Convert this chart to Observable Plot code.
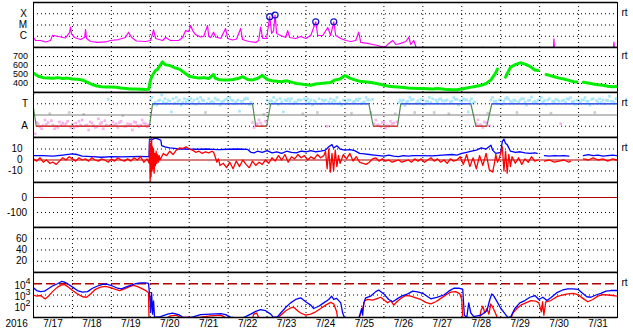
<!DOCTYPE html>
<html><head><meta charset="utf-8">
<script src="https://cdn.jsdelivr.net/npm/d3@7"></script>
<script src="https://cdn.jsdelivr.net/npm/@observablehq/plot@0.6"></script>
<style>
body{margin:0;background:#fff;}
#chart{position:relative;width:633px;height:334px;background:#fff;overflow:hidden;}
#chart svg{position:absolute;left:0;}
</style></head><body><div id="chart"></div>
<script>
// ---------- DATA (hours since 2016-07-17 00:00 UT) ----------
const year = "2016";
const days = ["7/17","7/18","7/19","7/20","7/21","7/22","7/23","7/24","7/25","7/26","7/27","7/28","7/29","7/30","7/31"];

// GOES X-ray flux (W/m2)
const xray = [[0,7.7e-7],[1.2,4.2e-7],[4.3,4.2e-7],[7.4,3.1e-7],[10.5,4.2e-7],[11.7,1.2e-6],[15.4,9.5e-7],[19.7,7e-7],[22.2,2.1e-6],[22.8,6.4e-6],[23.4,1.75e-6],[25.3,7.7e-7],[29,5.1e-7],[31.5,7.7e-7],[32.1,4e-6],[32.7,6.3e-7],[35.2,3.4e-7],[39.5,2.8e-7],[44.4,3.1e-7],[47.5,4.2e-7],[52.4,5.1e-7],[56.7,7.7e-7],[58.6,2.3e-6],[60.5,7.7e-7],[63.5,3.8e-7],[69.1,3.4e-7],[72.2,4.2e-7],[74,3.7e-6],[75.3,6.3e-7],[79.6,4.2e-7],[81.4,7.7e-7],[84.5,4.2e-7],[89.5,4.2e-7],[91.9,7.7e-7],[93.8,3.2e-6],[95.6,2.6e-6],[96.9,9e-6],[98.1,3.2e-6],[99.9,1.4e-6],[103,8.6e-7],[104.9,9.5e-7],[107.3,9e-6],[108,9.5e-7],[109.2,7.7e-7],[111,2.3e-6],[112.3,8.6e-7],[115.4,6.3e-7],[118.4,4.9e-6],[119.7,6.3e-7],[122.8,4.6e-7],[125.2,5.7e-7],[127.7,4.9e-6],[128.9,5.1e-7],[132.6,3.4e-7],[137,2.8e-7],[138.8,4.2e-7],[140,6.4e-6],[141.3,6.3e-7],[143.7,6.3e-7],[145.6,5.5e-5],[146.8,1.75e-6],[148,3.2e-6],[148.9,7.6e-5],[149.9,1.75e-6],[152.4,1.17e-6],[155.5,7.7e-7],[156.7,3.2e-6],[157.9,7.7e-7],[161.6,6.3e-7],[164.7,9.5e-7],[167.8,6.3e-7],[170.9,1.17e-6],[174,1.9e-5],[175.2,1.17e-6],[178.3,1.17e-6],[181.4,6e-6],[183.2,1.17e-6],[185.1,1.9e-5],[186.3,1.17e-6],[189.4,6.3e-7],[192.5,4.2e-7],[195.6,3.4e-7],[198.6,4.2e-7],[200.5,2.3e-6],[201.7,2.8e-7],[206,2.3e-7],[209.1,1.85e-7],[212.2,1.5e-7],[214.1,1.23e-7],[217.2,1.23e-7],[219,2.3e-7],[221.5,4.2e-7],[223.3,1.85e-7],[226.4,2.3e-7],[229.5,3.4e-7],[231.3,8.2e-7],[232.6,1.85e-7],[234.4,4.2e-7],[235.7,1.23e-7],[237,5e-8],[276.6,5e-8],[277,1.1e-7],[277.4,5e-8],[296.3,5e-8],[296.7,1.1e-7],[297.1,5e-8],[320.5,9e-8],[320.8,5.9e-7],[321.1,9e-8],[357.5,9e-8],[357.8,3e-7],[358.1,9e-8]];
const flares = [[145.6,5.5e-5],[148.9,7.6e-5],[174,1.9e-5],[185.1,1.9e-5]];
const xrayTicks = [1e-6,1e-5,1e-4];
const xrayLabels = ["C","M","X"];

// Solar wind speed (km/s)
const wind = [[0,515],[3,480],[6,465],[9,462],[12,458],[15,465],[18,455],[21,460],[24,450],[27,448],[30,440],[33,415],[36,390],[39,372],[42,365],[45,362],[48,360],[51,358],[54,350],[57,345],[60,340],[63,338],[66,335],[69,332],[71,335],[72,430],[73,480],[75,540],[76.5,560],[78,600],[79.5,640],[81,610],[84,600],[87,575],[90,560],[93,520],[96,480],[99,470],[102,460],[105,465],[108,455],[111,500],[112,460],[114,445],[117,440],[120,440],[123,445],[126,455],[129,475],[132,445],[135,440],[138,455],[141,490],[144,445],[147,430],[150,425],[153,420],[156,430],[159,415],[162,400],[165,395],[168,385],[171,380],[174,395],[177,400],[180,405],[183,410],[186,440],[189,450],[192,490],[195,460],[198,440],[201,425],[204,420],[207,415],[210,405],[213,395],[216,380],[219,370],[222,365],[225,360],[228,355],[231,350],[234,348],[237,345],[240,345],[243,342],[246,340],[249,345],[252,338],[255,332],[258,330],[261,330],[264,340],[267,350],[270,360],[273,370],[276,380],[279,400],[282,440],[285,520],[286,560],[287,null],[291,470],[294,580],[297,610],[300,630],[303,615],[306,590],[309,550],[311,545],[312,null],[316,500],[318,490],[321,475],[324,460],[327,450],[330,435],[333,420],[335,418],[336,null],[339,415],[342,405],[345,395],[348,385],[351,380],[354,370],[357,365],[359.5,368]];
const windTicks = [400,500,600,700];

// IMF phi angle samples (deg), three per 3-hour slot
const phiA = [350,110,95,120,100,80,115,130, 105,90,140,100,115,85,120,100, 95,110,130,90,105,120,100,110, 300,280,300,310,290,275,300,310, 290,300,285,295,310,280,300,290, 280,295,300,290,310,120,110,95, 300,290,300,285,295,310,280,300, 290,300,285,270,300,310,290,280, 295,300,290,310,285,300,110,100, 120,90,115,280,300,290,305,295, 300,290,310,285,295,300,290,305, 290,300,310,110,100,120,300,290, 300,310,290,295,300,285,300,290, 300,295,310,285,290,300,305,290, 295,300,290,310,285,300,295,290];
const phiB = [30,85,140,190,70,125,95,200, 75,130,185,60,95,150,70,305, 125,80,175,110,60,95,140,85, 320,260,340,275,205,320,260,285, 310,265,320,200,280,315,260,300, 320,270,210,305,265,80,140,185, 270,320,265,205,310,270,300,190, 310,260,200,300,90,280,320,260, 275,195,305,270,320,200,140,85, 75,130,190,300,255,320,200,275, 265,320,200,305,270,190,320,260, 310,205,275,140,80,195,320,270, 265,320,280,200,310,260,325,280, 320,265,195,305,110,280,320,265, 280,320,260,200,310,270,330,280];
const phiC = [120,70,105,135,90,100,110,80, 115,100,95,125,80,110,135,95, 100,120,90,105,125,85,115,100, 265,295,285,300,310,290,280,305, 280,310,300,275,290,300,285,310, 300,285,290,315,280,100,115,130, 295,280,310,300,290,285,300,310, 280,295,310,290,285,300,270,300, 300,285,295,280,300,305,100,120, 95,110,125,290,285,300,275,305, 290,280,300,310,295,285,305,295, 300,290,285,100,125,95,290,300, 290,305,300,285,310,295,280,300, 285,300,290,300,295,310,285,300, 300,290,305,295,280,300,290,310];
// IMF sector polarity (270 = T, 90 = A)
const sector = [[0,235],[1.7,90],[71.5,90],[73.4,270],[135,270],[137,90],[143.7,90],[146.2,270],[206.7,270],[209.5,90],[224.4,90],[226.4,270],[269.6,270],[272.7,90],[279.4,90],[282.5,270],[360,270]];
const sectorTicks = [90,270];
const sectorLabels = ["A","T"];

// IMF Bt and Bz (nT)
const bt = [[0,4],[6,4],[12,3.5],[18,4.5],[24,5.5],[27,5],[30,3.5],[36,3],[42,2.5],[48,3],[54,2.8],[60,3],[66,3.2],[70,3],[71.2,3],[71.5,19],[73,18.5],[75,20],[77,19],[78.5,18],[79,13],[81,12],[84,11],[87,10.5],[90,10],[93,10],[96,9.8],[102,9.8],[108,10],[114,9.5],[120,9.8],[126,10],[132,9.6],[134,7],[136,6.5],[138,8],[141,7],[144,8.5],[147,6.5],[150,7.5],[153,6],[156,8],[159,7],[162,6.5],[165,8],[168,7.5],[171,8.5],[174,7.5],[177,8],[180,9],[182,12],[184,14],[185,11],[187,13],[189,10],[192,9],[195,9.5],[198,8.5],[201,6],[204,5.5],[207,5],[210,4.5],[213,4],[216,3.5],[219,4.5],[222,3.5],[225,3],[228,4],[231,3.5],[234,4],[240,4],[246,3.8],[252,4.5],[258,5],[261,4.5],[264,6],[267,7],[270,8],[273,9],[276,11],[279,10],[282,13.5],[283,9],[285,6],[288,7],[289,17],[290,19],[291,15],[292,14],[294,8],[297,7],[300,7.5],[303,6.5],[306,6],[309,6.5],[310.5,6],[311,null],[315,4],[318,3.5],[321,4],[324,3.8],[327,4],[330,3.5],[331,null],[339,4],[342,5],[345,4],[348,4.5],[351,3.5],[354,4],[357,4.5],[359.5,4]];
const bz = [[0,1],[2,-1],[4,2],[6,-2],[8,0],[10,-3],[12,-2],[14,-4],[16,-1],[18,2],[20,0],[22,3],[24,1],[26,-1],[28,2],[30,0],[32,1],[34,-1],[36,2],[38,0],[40,-1],[42,1],[44,0],[46,-2],[48,1],[50,-1],[52,2],[54,0],[56,-1],[58,1],[60,-1],[62,2],[64,0],[66,3],[68,-2],[70,1],[71.3,-3],[71.6,18],[71.9,-20],[72.2,15],[72.5,-15],[72.8,20],[73.1,-10],[73.4,12],[73.7,-8],[74,10],[74.4,-12],[74.8,6],[75.2,-5],[75.6,8],[76,-3],[76.5,5],[77,-2],[77.5,4],[78,0],[79,3],[80,6],[82,4],[84,8],[86,5],[88,9],[90,11],[92,10.5],[94,12],[96,10],[98,9],[100,7],[102,8],[104,6],[106,7.5],[108,6.5],[110,8],[111,7],[112,3],[113,-2],[114,1],[115,-5],[117,-3],[119,-7],[121,-2],[123,-8],[125,-1],[127,-6],[129,0],[131,-4],[133,-7],[135,-1],[137,-5],[139,-2],[141,-4],[143,0],[145,-3],[147,2],[149,-1],[151,4],[153,0],[155,5],[157,-2],[159,3],[161,1],[163,5],[165,2],[167,4],[169,0],[171,3],[173,1],[175,5],[177,2],[179,4],[180,8],[181,-8],[182,10],[183,-11],[184,6],[185,-10],[186,9],[187,-6],[188,4],[189,-3],[191,5],[193,1],[195,6],[197,-1],[199,3],[201,-2],[203,-3],[205,-4],[207,-2],[209,1],[211,2],[213,-1],[215,1],[217,-1],[219,0],[221,-2],[223,-1],[225,0],[227,-2],[229,-1],[231,0],[233,-2],[235,1],[237,-1],[239,1],[241,-2],[243,0],[245,2],[247,-1],[249,1],[251,-2],[253,0],[255,-3],[257,1],[259,-1],[261,0],[263,3],[265,-4],[267,5],[269,-6],[271,2],[273,-8],[275,4],[277,-5],[279,6],[281,-9],[283,-11],[284,-4],[285,5],[286,-2],[287,1],[289,12],[290,-10],[291,8],[292,-12],[293,5],[294,-6],[295,3],[297,-3],[299,2],[301,-4],[303,1],[305,-2],[307,3],[309,-1],[311,0],[311.5,null],[315,-1],[318,0],[321,-2],[324,-1],[327,0],[330,-2],[331,-1],[331.5,null],[339,1],[342,0],[345,2],[348,0],[351,1],[354,-1],[357,1],[359.5,0]];
const imfTicks = [-10,0,10];

// Dst (nT) and activity index panels (no data in this period)
const dstTicks = [-100,0];
const kpTicks = [20,40,60];

// >2 MeV electron flux, two satellites
const elec1 = [[0,4400],[1.9,2500],[4.3,2000],[6.8,2200],[8.6,3200],[11.7,6300],[14.8,10000],[17.3,16000],[19.1,14000],[21,10000],[24.1,5000],[27.1,2500],[30.2,1800],[33.3,2000],[36.4,4000],[39.5,6300],[42.6,9000],[45.7,9000],[48.7,6300],[51.8,4000],[54.3,3500],[56.8,5000],[59.8,7100],[62.9,10000],[66,12000],[69.1,12000],[70.9,11000],[71.9,300],[72.2,30],[72.8,1600],[73.4,20],[74,300],[74.6,11],[78.3,12],[82.7,20],[85.7,25],[89.5,18],[91.9,11],[96.9,10],[103,18],[109.2,20],[115.4,22],[118.4,18],[121.5,11],[127.7,8],[130.8,12],[133.9,20],[137,35],[140,50],[143.1,40],[146.2,20],[148,10],[150.5,12],[152.4,25],[155.5,80],[158.5,200],[161.6,400],[164.7,560],[167.8,250],[170.9,125],[172.7,63],[175.8,100],[178.9,200],[182,400],[183.8,800],[185.1,400],[186.9,500],[189.4,200],[190.6,25],[191.9,8],[200.5,8],[202.3,63],[202.9,16],[203.6,200],[204.8,560],[207.9,800],[211,2000],[212.8,2800],[215.9,1250],[219,400],[221.5,250],[224.6,500],[227.6,900],[230.7,1250],[233.8,2200],[237.5,1800],[240.6,1250],[244.9,460],[248.6,630],[252.9,1000],[256,2200],[259.1,4000],[262.2,4000],[264.6,3200],[265.6,16],[267.1,10],[268.3,200],[269.6,25],[271.4,12],[275.8,16],[279.5,40],[281.3,400],[282.5,1250],[283.8,800],[286.2,200],[288.1,63],[290.6,22],[292.4,10],[294.3,12],[296.7,63],[299.8,200],[302.9,320],[306,630],[309.1,900],[311.5,400],[314,630],[316.5,320],[318.9,560],[322.6,1600],[326.3,2800],[329.4,3500],[332.5,3500],[335.6,3200],[338.1,1600],[341.1,700],[343.6,630],[346.7,1000],[349.8,1400],[352.9,2200],[355.9,2500],[359.7,2500]];
const elec2 = [[0,1000],[1.9,800],[4.3,900],[6.2,560],[7.4,460],[9.3,800],[11.7,2000],[14.8,5000],[17.3,8000],[19.1,8500],[21,5600],[24.1,2500],[27.1,1250],[30.2,700],[32.7,630],[35.2,1250],[38.2,3200],[41.3,5000],[44.4,5800],[47.5,4500],[50.6,3200],[53.1,2500],[56.1,3500],[59.2,5600],[61.7,7000],[64.2,5600],[67.2,3500],[69.7,2200],[70.9,1600],[71.2,8],[81.4,8],[84.5,14],[88.2,16],[90.7,10],[103,11],[109.2,14],[115.4,16],[118.4,10],[121.5,8],[135.1,8],[135.7,20],[137.6,25],[138.8,10],[150.5,8],[152.4,16],[155.5,40],[158.5,70],[160.4,83],[162.8,40],[164.7,25],[167.8,16],[170.9,20],[174,32],[177,63],[180.1,125],[183.2,220],[185.1,160],[186.9,32],[187.5,8],[200.5,8],[202.9,63],[204.2,320],[206,400],[209.1,350],[212.2,500],[214.1,630],[216.5,320],[218.4,200],[220.2,320],[222.1,125],[224,250],[226.4,500],[229.5,900],[232.6,800],[235.7,560],[238.7,400],[241.8,220],[244.9,160],[248,250],[251.1,500],[254.2,1000],[257.2,1800],[260.3,2000],[262.8,1250],[264,400],[264.6,8],[275.1,8],[275.8,40],[277,100],[278.2,25],[279.5,63],[280.7,20],[281.9,160],[283.1,80],[284.4,32],[285.6,12],[286.2,8],[294.3,8],[295.5,25],[298,63],[300.4,125],[303.5,200],[306.6,320],[309.7,280],[311.5,200],[313.1,32],[313.8,250],[314.6,16],[315.8,250],[318.9,320],[322.6,700],[326.3,1000],[329.4,1250],[332.5,1400],[335.6,1100],[338.7,500],[341.7,250],[344.8,400],[347.9,800],[351,1100],[354.1,1000],[357.2,900],[359.7,800]];
const elecTicks = [1e2,1e3,1e4];
const elecExp = ["2","3","4"];

// ---------- DRAWING ----------
const chart = document.getElementById("chart");
const FONT = '"Liberation Sans", Arial, Helvetica, sans-serif';
const W = 633, ML = 33, MR = 16, PH = 45;
const panelTops = [2,47,92,137,182,227,272];
const hourDomain = [0, days.length * 24];
const gridHours = days.slice(1).map((d,i) => (i+1)*24);
const noonHours = days.map((d,i) => i*24 + 12);
const px = d => d[0], py = d => d[1];

function panel(idx, cfg) {
  const last = idx === panelTops.length - 1;
  const fs = cfg.fontSize || 10;
  const marks = [
    ...(cfg.under || []),
    Plot.ruleX(gridHours, {x: d => d, stroke: "black", strokeDasharray: "1,3"}),
    Plot.ruleY(cfg.grid, {y: d => d, stroke: "black", strokeDasharray: "1,3"}),
    ...(cfg.marks || []),
    Plot.frame({stroke: "black"}),
    Plot.ruleY(cfg.domain, {y: d => d, stroke: "black", strokeWidth: 1.6}),
    ...(cfg.labelMarks || [Plot.text(cfg.ticks, {y: d => d, text: (d,i) => cfg.labels[i], frameAnchor: "left", textAnchor: "end", dx: -cfg.pad, fill: "black", fontSize: fs})]),
  ];
  if (cfg.rt !== undefined) marks.push(Plot.text([cfg.rt], {y: d => d, text: () => "rt", frameAnchor: "right", textAnchor: "start", dx: 4, dy: -1, fill: "black", fontSize: 10}));
  if (cfg.extra) marks.push(...cfg.extra);
  const svg = Plot.plot({
    width: W, height: PH + 2 + (last ? 16 : 0),
    marginLeft: ML, marginRight: MR, marginTop: 1, marginBottom: last ? 17 : 1,
    x: {domain: hourDomain, axis: null},
    y: {type: cfg.type || "linear", domain: cfg.domain, axis: null},
    color: {type: "identity"},
    style: {background: "none", fontFamily: FONT, fontSize: "10px", color: "black"},
    marks
  });
  svg.style.position = "absolute";
  svg.style.top = (panelTops[idx] - 1) + "px";
  svg.style.left = "0px";
  chart.appendChild(svg);
}

// Panel 1: X-ray
panel(0, {
  type: "log", domain: [1e-7, 1e-3], ticks: xrayTicks, grid: xrayTicks, labels: xrayLabels, pad: 6.5, rt: 1e-4,
  marks: [
    Plot.line(xray, {x: px, y: py, stroke: "#ff00ff", strokeWidth: 1.2, clip: true}),
    Plot.dot(flares, {x: px, y: py, r: 3, stroke: "#1010c8", strokeWidth: 1.2, fill: "none"})
  ]
});

// Panel 2: solar wind speed
panel(1, {
  domain: [300, 800], ticks: windTicks, grid: windTicks, labels: windTicks.map(String), pad: 5.5, rt: 700, fontSize: 9,
  marks: [Plot.line(wind, {x: px, y: py, stroke: "#00ee00", strokeWidth: 3, clip: true})]
});

// Panel 3: IMF sector
const phiColor = v => (v >= 205 && v <= 345) ? "#a8e6fa" : (v >= 15 && v <= 165) ? "#f7b2ee" : "#cccccc";
const phiPts = [];
phiA.forEach((v,i) => phiPts.push([i*3, v]));
phiB.forEach((v,i) => phiPts.push([i*3 + 1, v]));
phiC.forEach((v,i) => phiPts.push([i*3 + 2, v]));
const sectorSegs = d3.pairs(sector).filter(([a,b]) => a[1] === b[1] && (a[1] === 90 || a[1] === 270));
panel(2, {
  domain: [0, 360], ticks: sectorTicks, grid: sectorTicks, labels: sectorLabels, pad: 5.5, rt: 270,
  under: [Plot.dot(phiPts, {x: px, y: py, r: 1.5, fill: d => phiColor(d[1]), symbol: "square", clip: true})],
  marks: [
    Plot.ruleY([180], {stroke: "#808080", strokeWidth: 1.2}),
    Plot.line(sector, {x: px, y: py, stroke: "#4f8a4f", strokeWidth: 1.2}),
    Plot.link(sectorSegs, {x1: d => d[0][0], y1: d => d[0][1], x2: d => d[1][0], y2: d => d[1][1],
      stroke: d => d[0][1] === 270 ? "#3a5af0" : "#e03434", strokeWidth: 1.3})
  ]
});

// Panel 4: IMF Bt / Bz
panel(3, {
  domain: [-20.5, 20.5], ticks: imfTicks, grid: [-10, 10], labels: imfTicks.map(String), pad: 11, rt: 10,
  marks: [
    Plot.ruleY([0], {stroke: "#b00000", strokeWidth: 1.2}),
    Plot.line(bt, {x: px, y: py, stroke: "#0000ff", strokeWidth: 1.3, clip: true}),
    Plot.line(bz, {x: px, y: py, stroke: "#ff0000", strokeWidth: 1.3, clip: true})
  ]
});

// Panel 5: Dst
panel(4, {
  domain: [-200, 100], ticks: dstTicks, grid: [-100], labels: dstTicks.map(String), pad: 6.5,
  marks: [Plot.ruleY([0], {stroke: "#b00000", strokeWidth: 1.2})]
});

// Panel 6: index
panel(5, {
  domain: [0, 80], ticks: kpTicks, grid: kpTicks, labels: kpTicks.map(String), pad: 6.5
});

// Panel 7: electrons + time axis
panel(6, {
  type: "log", domain: [10, 1e5], ticks: elecTicks, grid: [1e2, 1e3], rt: 1e4,
  marks: [
    Plot.ruleY([1e4], {stroke: "#b00000", strokeWidth: 1.3, strokeDasharray: "9,4"}),
    Plot.line(elec2, {x: px, y: py, stroke: "#ff0000", strokeWidth: 1.3, clip: true}),
    Plot.line(elec1, {x: px, y: py, stroke: "#0000ff", strokeWidth: 1.3, clip: true})
  ],
  labelMarks: [
    Plot.text(elecTicks, {y: d => d, text: () => "10", frameAnchor: "left", textAnchor: "end", dx: -8, dy: 2, fill: "black", fontSize: 10}),
    Plot.text(elecTicks, {y: d => d, text: (d,i) => elecExp[i], frameAnchor: "left", textAnchor: "start", dx: -8, dy: -3, fill: "black", fontSize: 9})
  ],
  extra: [
    Plot.text(noonHours, {x: d => d, text: (d,i) => days[i], frameAnchor: "bottom", dy: 9, fill: "black", fontSize: 10}),
    Plot.text([year], {text: d => d, frameAnchor: "bottom-left", textAnchor: "start", dx: -28, dy: 9, fill: "black", fontSize: 10})
  ]
});
</script></body></html>
